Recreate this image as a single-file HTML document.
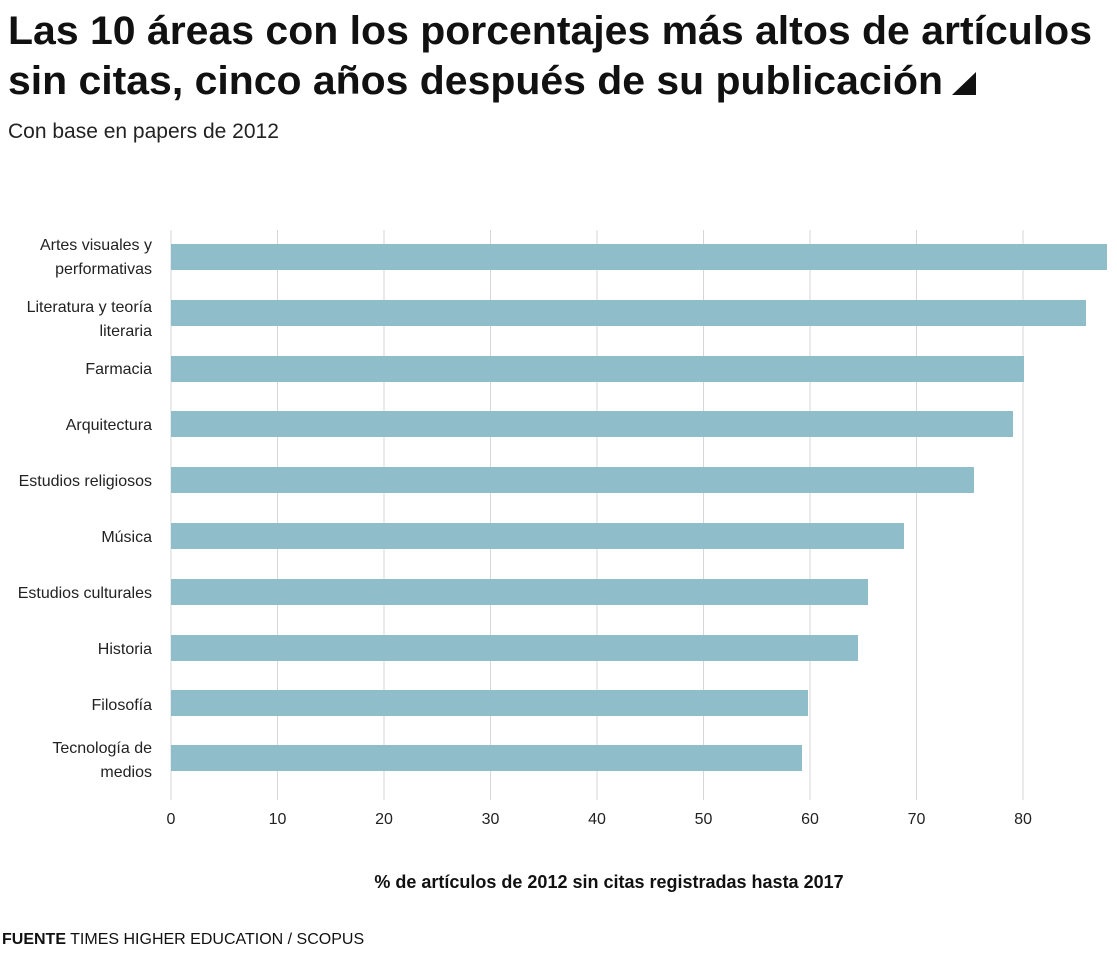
<!DOCTYPE html>
<html><head><meta charset="utf-8"><style>
body{margin:0;background:#fff;font-family:"Liberation Sans",sans-serif;}
</style></head><body>
<svg width="1117" height="950" xmlns="http://www.w3.org/2000/svg" font-family="Liberation Sans, sans-serif">
<text x="8" y="44" font-size="40" font-weight="bold" fill="#111" textLength="1084" lengthAdjust="spacingAndGlyphs">Las 10 áreas con los porcentajes más altos de artículos</text>
<text x="8" y="94" font-size="40" font-weight="bold" fill="#111" textLength="935" lengthAdjust="spacingAndGlyphs">sin citas, cinco años después de su publicación</text>
<polygon points="952,95 976,95 976,72" fill="#111"/>
<text x="8" y="138" font-size="21" fill="#222">Con base en papers de 2012</text>
<g stroke="#d6d6d6" stroke-width="1">
<line x1="171" y1="230" x2="171" y2="800"/><line x1="277.5" y1="230" x2="277.5" y2="800"/><line x1="384" y1="230" x2="384" y2="800"/><line x1="490.5" y1="230" x2="490.5" y2="800"/><line x1="597" y1="230" x2="597" y2="800"/><line x1="703.5" y1="230" x2="703.5" y2="800"/><line x1="810" y1="230" x2="810" y2="800"/><line x1="916.5" y1="230" x2="916.5" y2="800"/><line x1="1023" y1="230" x2="1023" y2="800"/>
</g>
<g fill="#8fbdca">
<rect x="171" y="244" width="936" height="26"/>
<rect x="171" y="300" width="915" height="26"/>
<rect x="171" y="356" width="853" height="26"/>
<rect x="171" y="411" width="842" height="26"/>
<rect x="171" y="467" width="803" height="26"/>
<rect x="171" y="523" width="733" height="26"/>
<rect x="171" y="579" width="697" height="26"/>
<rect x="171" y="635" width="687" height="26"/>
<rect x="171" y="690" width="637" height="26"/>
<rect x="171" y="745" width="631" height="26"/>
</g>
<g font-size="16" fill="#222" text-anchor="end">
<text x="152" y="250">Artes visuales y</text><text x="152" y="274">performativas</text>
<text x="152" y="312">Literatura y teoría</text><text x="152" y="336">literaria</text>
<text x="152" y="374">Farmacia</text>
<text x="152" y="430">Arquitectura</text>
<text x="152" y="486">Estudios religiosos</text>
<text x="152" y="542">Música</text>
<text x="152" y="598">Estudios culturales</text>
<text x="152" y="654">Historia</text>
<text x="152" y="710">Filosofía</text>
<text x="152" y="753">Tecnología de</text><text x="152" y="777">medios</text>
</g>
<g font-size="16" fill="#222" text-anchor="middle">
<text x="171" y="824">0</text><text x="277.5" y="824">10</text><text x="384" y="824">20</text><text x="490.5" y="824">30</text><text x="597" y="824">40</text><text x="703.5" y="824">50</text><text x="810" y="824">60</text><text x="916.5" y="824">70</text><text x="1023" y="824">80</text>
</g>
<text x="609" y="888" font-size="18" font-weight="bold" fill="#111" text-anchor="middle">% de artículos de 2012 sin citas registradas hasta 2017</text>
<text x="2" y="944" font-size="16" fill="#111"><tspan font-weight="bold">FUENTE</tspan>  TIMES HIGHER EDUCATION / SCOPUS</text>
</svg>
</body></html>
